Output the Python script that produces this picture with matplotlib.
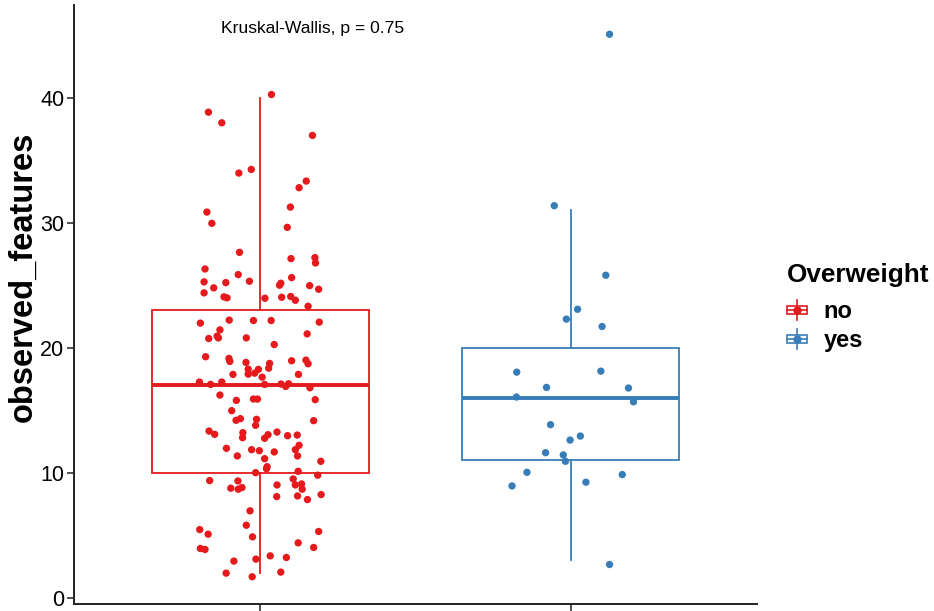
import numpy as np
import matplotlib
matplotlib.use("Agg")
import matplotlib.pyplot as plt
from matplotlib.legend_handler import HandlerBase
from matplotlib.lines import Line2D
from matplotlib.patches import Rectangle

plt.rcParams['font.family'] = ['Liberation Sans', 'DejaVu Sans']

# ---------------- data (y includes the plotted jitter) ----------------
groups = ["no", "yes"]
legend_title = "Overweight"
y_label = "observed_features"
stat_label = "Kruskal-Wallis, p = 0.75"
y_ticks = [0, 10, 20, 30, 40]

no_y = [40.24, 38.83, 37.98, 36.97, 34.25, 33.96, 33.32, 32.79, 30.84, 31.24, 29.94, 29.62,
        27.62, 27.12, 27.2, 26.77,
        26.29, 25.26, 25.84, 25.2, 25.31, 25.6, 24.78, 24.38, 24.99, 25.15, 24.96, 24.67,
        24.06, 23.98, 23.95, 24.03, 24.09, 23.79, 23.31,
        21.96, 22.2, 22.17, 22.17, 22.04, 21.42, 20.73, 20.92, 20.78, 20.78, 21.1, 20.25,
        19.27, 19.14, 18.9, 18.82, 18.74, 18.36, 18.95, 19.0, 18.71, 18.28, 17.88, 18.26,
        17.96, 17.64, 17.86, 17.86, 17.25, 17.06, 17.25, 17.06, 17.09, 16.9, 17.11, 16.79,
        16.21, 15.78, 15.89, 15.89, 15.84, 14.96, 14.19, 14.32, 14.27, 13.79, 14.16,
        13.33, 13.07, 13.2, 12.8, 12.75, 13.04, 13.25, 12.96, 13.01, 12.19, 11.84, 11.34,
        11.95, 11.84, 11.76, 11.66, 11.34, 11.12, 10.91, 10.48, 10.32, 10.0, 10.11, 9.8,
        9.37, 9.34, 9.5, 9.02, 9.1, 8.68, 9.02, 8.76, 8.68, 8.81, 8.25, 8.09, 8.14, 7.85,
        6.95, 5.8, 5.45, 5.08, 5.3, 4.87, 4.39, 3.94, 3.86, 4.02, 3.35, 3.22, 3.09, 2.93,
        1.97, 2.05, 1.68]
no_jit = [0.036, -0.167, -0.124, 0.168, -0.029, -0.069, 0.148, 0.125, -0.172, 0.097, -0.156, 0.087,
          -0.067, 0.099, 0.176, 0.178,
          -0.178, -0.181, -0.071, -0.111, -0.035, 0.101, -0.150, -0.181, 0.062, 0.066, 0.159, 0.188,
          -0.117, -0.107, 0.015, 0.069, 0.098, 0.113, 0.154,
          -0.193, -0.100, -0.022, 0.035, 0.190, -0.130, -0.166, -0.139, -0.135, -0.045, 0.151, 0.045,
          -0.176, -0.101, -0.098, -0.046, 0.030, 0.027, 0.101, 0.147, 0.154, -0.039, -0.039, -0.006,
          -0.018, 0.006, -0.088, 0.123, -0.196, -0.160, -0.124, 0.014, 0.067, 0.082, 0.091, 0.160,
          -0.130, -0.077, -0.022, -0.009, 0.177, -0.092, -0.078, -0.064, -0.012, -0.015, 0.172,
          -0.165, -0.147, -0.056, -0.057, 0.014, 0.025, 0.054, 0.088, 0.119, 0.125, 0.113, 0.120,
          -0.109, -0.028, -0.003, 0.045, -0.074, 0.014, 0.195, 0.022, 0.020, -0.015, 0.122, 0.185,
          -0.163, -0.072, 0.106, 0.113, 0.133, 0.135, 0.054, -0.095, -0.071, -0.059, 0.196, 0.053,
          0.120, 0.152, -0.033, -0.045, -0.195, -0.168, 0.188, -0.025, 0.122, -0.193, -0.178, 0.172,
          0.032, 0.084, -0.014, -0.085, -0.110, 0.066, -0.026]

yes_y = [45.06, 31.35, 25.79, 23.07, 22.28, 21.69, 18.04, 18.12, 16.82, 16.77, 16.05, 15.67,
         13.84, 12.93, 12.61, 11.6, 11.42, 10.91, 10.03, 9.85, 9.24, 8.94, 2.66]
yes_jit = [0.125, -0.053, 0.113, 0.022, -0.014, 0.101, -0.174, 0.097, -0.078, 0.186, -0.175, 0.202,
           -0.065, 0.031, -0.002, -0.081, -0.024, -0.017, -0.141, 0.166, 0.049, -0.189, 0.125]

colors = ["#E41A1C", "#377EB8"]

# ---------------- figure ----------------
fig = plt.figure(figsize=(9.34, 6.11), dpi=100)
ax = fig.add_axes([74 / 934, (611 - 604) / 611, (757 - 74) / 934, (604 - 5) / 611])

values = [np.round(no_y), np.round(yes_y)]
positions = [1, 2]
for i, (vals, col) in enumerate(zip(values, colors)):
    ax.boxplot([vals], positions=[positions[i]], widths=0.7, whis=1.5, showfliers=False,
               showcaps=False, patch_artist=True,
               boxprops=dict(facecolor="white", edgecolor=col, linewidth=1.3),
               whiskerprops=dict(color=col, linewidth=1.3),
               medianprops=dict(color=col, linewidth=2.8),
               zorder=2)

for i, (ys, js, col) in enumerate(zip([no_y, yes_y], [no_jit, yes_jit], colors)):
    xs = positions[i] + np.array(js)
    ax.scatter(xs, ys, s=28, color=col, edgecolors="none", zorder=3)

ax.set_xlim(0.4, 2.6)
ax.set_ylim(-0.5, 47.4)
ax.set_xticks(positions)
ax.set_xticklabels([])
ax.set_yticks(y_ticks)
ax.tick_params(axis="y", labelsize=15.5, length=5, width=1.2, colors="#333333", labelcolor="black", pad=2)
ax.tick_params(axis="x", length=5, width=1.2, colors="#333333")
for s in ["top", "right"]:
    ax.spines[s].set_visible(False)
for s in ["left", "bottom"]:
    ax.spines[s].set_linewidth(1.4)
    ax.spines[s].set_color("#222222")
ax.set_ylabel(y_label, fontsize=23.5, fontweight="bold")
ax.yaxis.set_label_coords((23 - 74) / 683, (604 - 277) / 599)
ax.yaxis.label.set_va("center")

ax.text(1.17, 45.5, stat_label, fontsize=12.6, ha="center", va="center")


# ---------------- legend with boxplot key glyphs ----------------
class BoxKey(HandlerBase):
    def create_artists(self, legend, orig_handle, xdescent, ydescent, width, height, fontsize, trans):
        col = orig_handle.get_color()
        cx = width / 2 - xdescent
        cy = height / 2 - ydescent
        bw, bh = width, height * 0.45
        wl = height * 0.53
        arts = [
            Line2D([cx, cx], [cy - wl, cy + wl], color=col, lw=1.2, transform=trans),
            Rectangle((cx - bw / 2, cy - bh / 2), bw, bh, facecolor="white", edgecolor=col,
                      lw=1.2, transform=trans),
            Line2D([cx - bw / 2, cx + bw / 2], [cy, cy], color=col, lw=1.2, transform=trans),
            Line2D([cx], [cy], marker="o", markersize=5, color=col, lw=0, transform=trans),
        ]
        return arts


handles = [Line2D([], [], color=c) for c in colors]
leg = fig.legend(handles, groups, handler_map={Line2D: BoxKey()}, title=legend_title,
                 loc="upper left", bbox_to_anchor=(787 / 934, 1 - 263 / 611), frameon=False,
                 prop=dict(size=17, weight="bold"), title_fontproperties=dict(size=18.8, weight="bold"),
                 handlelength=0.85, handleheight=0.85, handletextpad=0.7, labelspacing=0.25,
                 borderaxespad=0, borderpad=0)
leg._legend_box.align = "left"
leg._legend_box.sep = 9.5

fig.savefig("out.png", dpi=100)
